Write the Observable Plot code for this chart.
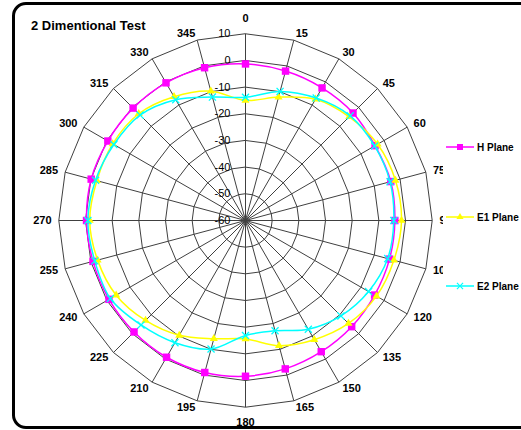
<!DOCTYPE html>
<html>
<head>
<meta charset="utf-8">
<script src="https://cdn.jsdelivr.net/npm/d3@7"></script>
<script src="https://cdn.jsdelivr.net/npm/@observablehq/plot@0.6"></script>
<style>
  html, body { margin: 0; padding: 0; background: #fff; }
  body { width: 521px; height: 430px; position: relative; overflow: hidden; font-family: "Liberation Sans", Arial, sans-serif; }
  #chart { position: absolute; left: 0; top: 0; }
  #border { position: absolute; left: 12px; top: 2px; width: 560px; height: 421px; border: 3px solid #000; border-radius: 14px; pointer-events: none; }
  #title { position: absolute; left: 31px; top: 18px; font-size: 13px; font-weight: bold; line-height: 16px; color: #000; white-space: nowrap; }
  .leg { position: absolute; left: 446px; height: 14px; display: flex; align-items: center; white-space: nowrap; }
  .leg span { font-size: 10px; font-weight: bold; margin-left: 3px; color: #000; }
</style>
</head>
<body>
<div id="chart"></div>
<div id="title">2 Dimentional Test</div>
<div id="legend"></div>
<div id="border"></div>
<script>
const angles = [0, 15, 30, 45, 60, 75, 90, 105, 120, 135, 150, 165, 180, 195, 210, 225, 240, 255, 270, 285, 300, 315, 330, 345];
const hPlane  = [-1.3, -2.0, -2.6, -3.0, -3.9, -3.6, -4.0, -4.1, -4.1, -3.7, -3.2, -2.4, -1.6, -1.0, -0.8, -0.9, -0.9, -0.8, -0.4, -0.1, -0.4, -0.4, -0.4, -0.7];
const e1Plane = [-15.0, -12.1, -7.5, -5.0, -2.8, -1.8, -1.5, -2.4, -3.3, -5.4, -8.4, -11.4, -15.6, -14.1, -10.3, -7.0, -4.0, -2.6, -1.6, -2.3, -2.5, -3.4, -6.4, -9.8];
const e2Plane = [-13.8, -9.9, -7.0, -4.5, -4.1, -3.9, -4.4, -4.8, -6.7, -9.4, -12.9, -17.2, -16.9, -10.1, -7.1, -4.6, -1.5, -1.5, -0.9, -1.8, -3.0, -4.1, -7.7, -12.1];
const radialTicks = [10, 0, -10, -20, -30, -40, -50, -60];
const seriesNames = ["H Plane", "E1 Plane", "E2 Plane"];
const seriesColors = ["#ff00ff", "#ffff00", "#00ffff"];
const seriesSymbols = ["square", "triangle", "times"];
const seriesValues = [hPlane, e1Plane, e2Plane];

const rMin = -60, rMax = 10, span = rMax - rMin;
const cx = 245, cy = 220, R = 186.7;
const unit = R / span;
const rad = a => a * Math.PI / 180;
const X = (a, r) => r * Math.sin(rad(a));
const Y = (a, r) => r * Math.cos(rad(a));

const rings = radialTicks.filter(t => t > rMin).flatMap(t => angles.map(a => ({t, a, r: t - rMin})));
const points = seriesNames.flatMap((s, i) => angles.map((a, j) => ({series: s, a, v: seriesValues[i][j], r: seriesValues[i][j] - rMin})));

const labR = a => (a % 180 === 0 ? 202 : 194) / unit;
const rightLabels = angles.filter(a => a > 0 && a < 180);
const leftLabels = angles.filter(a => a > 180);
const midLabels = angles.filter(a => a % 180 === 0);

const marks = [
  Plot.line(rings, {x: d => X(d.a, d.r), y: d => Y(d.a, d.r), z: "t", curve: "linear-closed", stroke: "#404040", strokeWidth: 1}),
  Plot.link(angles, {x1: 0, y1: 0, x2: a => X(a, span), y2: a => Y(a, span), stroke: "#404040", strokeWidth: 1}),
  Plot.text(radialTicks, {x: 0, y: t => t - rMin, text: t => String(t), textAnchor: "end", dx: -15, fontSize: 11, fill: "#000"}),
  Plot.text(rightLabels, {x: a => X(a, labR(a)), y: a => Y(a, labR(a)), text: a => String(a), textAnchor: "start", fontSize: 11, fontWeight: "bold", fill: "#000", clip: true}),
  Plot.text(leftLabels, {x: a => X(a, labR(a)), y: a => Y(a, labR(a)), text: a => String(a), textAnchor: "end", fontSize: 11, fontWeight: "bold", fill: "#000", clip: true}),
  Plot.text(midLabels, {x: a => X(a, labR(a)), y: a => Y(a, labR(a)), text: a => String(a), textAnchor: "middle", fontSize: 11, fontWeight: "bold", fill: "#000", clip: true})
];
const dotR = {square: 4.2, triangle: 3.0, times: 3.3};
seriesNames.forEach((s, i) => {
  const data = points.filter(d => d.series === s);
  marks.push(Plot.line(data, {x: d => X(d.a, d.r), y: d => Y(d.a, d.r), curve: "catmull-rom-closed", stroke: seriesColors[i], strokeWidth: 1.5}));
  const sym = seriesSymbols[i];
  if (sym === "times") {
    marks.push(Plot.dot(data, {x: d => X(d.a, d.r), y: d => Y(d.a, d.r), symbol: sym, r: dotR[sym], stroke: seriesColors[i], strokeWidth: 1.3, fill: "none"}));
  } else {
    marks.push(Plot.dot(data, {x: d => X(d.a, d.r), y: d => Y(d.a, d.r), symbol: sym, r: dotR[sym], fill: seriesColors[i], stroke: "none"}));
  }
});

const chart = Plot.plot({
  width: 521, height: 430,
  marginLeft: 0, marginRight: 78, marginTop: 0, marginBottom: 0,
  x: {domain: [-span, span], range: [cx - R, cx + R], axis: null},
  y: {domain: [-span, span], range: [cy + R, cy - R], axis: null},
  style: {fontFamily: "Liberation Sans, Arial, sans-serif", background: "transparent", overflow: "visible"},
  marks
});
document.getElementById("chart").appendChild(chart);

// legend
const legendY = [147, 217, 286];
const legend = document.getElementById("legend");
seriesNames.forEach((s, i) => {
  const div = document.createElement("div");
  div.className = "leg";
  div.style.top = (legendY[i] - 7) + "px";
  const svg = d3.create("svg").attr("width", 28).attr("height", 14);
  svg.append("line").attr("x1", 0).attr("x2", 28).attr("y1", 7).attr("y2", 7).attr("stroke", seriesColors[i]).attr("stroke-width", 1.5);
  const symType = {square: d3.symbolSquare, triangle: d3.symbolTriangle, times: d3.symbolTimes}[seriesSymbols[i]];
  const size = {square: 36, triangle: 22, times: 26}[seriesSymbols[i]];
  const p = svg.append("path").attr("transform", "translate(14,7)").attr("d", d3.symbol(symType, size)());
  if (seriesSymbols[i] === "times") p.attr("fill", "none").attr("stroke", seriesColors[i]).attr("stroke-width", 1.2);
  else p.attr("fill", seriesColors[i]);
  div.appendChild(svg.node());
  const sp = document.createElement("span");
  sp.textContent = s;
  div.appendChild(sp);
  legend.appendChild(div);
});
</script>
</body>
</html>
